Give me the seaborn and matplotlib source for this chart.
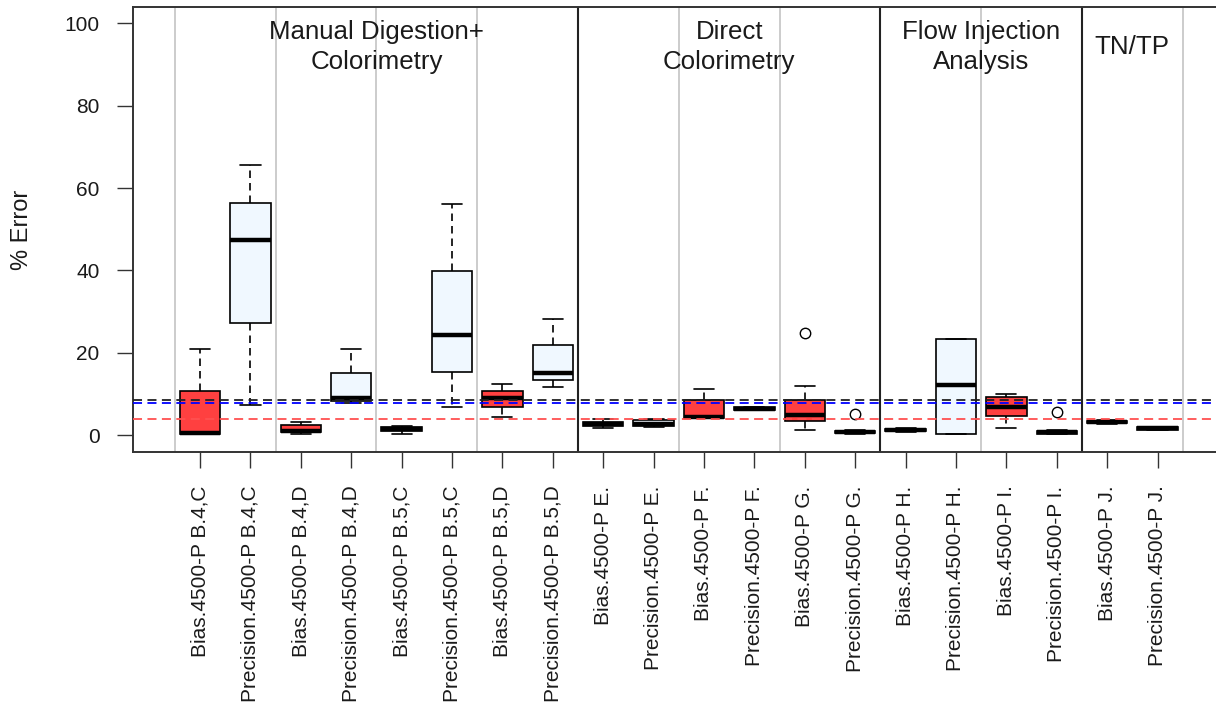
import numpy as np
import pandas as pd
import matplotlib
matplotlib.use("Agg")
import matplotlib.pyplot as plt
import seaborn as sns

# ---------------- data ----------------
labels = [
    "Bias.4500-P B.4,C", "Precision.4500-P B.4,C",
    "Bias.4500-P B.4,D", "Precision.4500-P B.4,D",
    "Bias.4500-P B.5,C", "Precision.4500-P B.5,C",
    "Bias.4500-P B.5,D", "Precision.4500-P B.5,D",
    "Bias.4500-P E.", "Precision.4500-P E.",
    "Bias.4500-P F.", "Precision.4500-P F.",
    "Bias.4500-P G.", "Precision.4500-P G.",
    "Bias.4500-P H.", "Precision.4500-P H.",
    "Bias.4500-P I.", "Precision.4500-P I.",
    "Bias.4500-P J.", "Precision.4500-P J.",
]
kinds = ["Bias", "Precision"] * 10

whisker_lo = [0.30, 7.3, 0.35, 7.9, 0.35, 6.8, 4.5, 11.6, 1.7, 1.9,
              4.2, 6.0, 1.2, 0.25, 0.8, 0.25, 1.7, 0.2, 2.7, 1.15]
q1 = [0.35, 27.3, 0.8, 8.3, 1.0, 15.3, 6.9, 13.3, 2.1, 2.1,
      4.2, 6.1, 3.4, 0.4, 0.95, 0.25, 4.7, 0.35, 2.85, 1.3]
median = [0.6, 47.5, 1.0, 8.9, 1.55, 24.2, 9.1, 15.0, 2.6, 2.7,
          4.45, 6.4, 4.9, 0.7, 1.2, 12.05, 6.8, 0.7, 3.1, 1.6]
q3 = [10.8, 56.4, 2.35, 15.0, 2.0, 39.9, 10.8, 21.8, 3.2, 3.7,
      8.4, 6.7, 8.4, 1.0, 1.45, 23.4, 9.3, 1.0, 3.35, 1.85]
whisker_hi = [21.0, 65.7, 3.2, 21.0, 2.3, 56.1, 12.5, 28.2, 4.0, 4.0,
              11.25, 6.9, 12.0, 1.2, 1.6, 23.4, 9.95, 1.2, 3.55, 2.05]
outliers = [None, None, None, None, None, None, None, None, None, None,
            None, None, 24.9, 5.2, None, None, None, 5.7, None, None]

group_titles = ["Manual Digestion+\nColorimetry", "Direct\nColorimetry",
                "Flow Injection\nAnalysis", "TN/TP"]
group_centers = [3.5, 10.5, 15.5, 18.5]
minor_separators = [-0.5, 1.5, 3.5, 5.5, 9.5, 11.5, 15.5, 19.5]
major_separators = [7.5, 13.5, 17.5]
ref_black, ref_blue, ref_red = 8.4, 7.7, 4.0
yticks = [0, 20, 40, 60, 80, 100]

# -------- long-form table for seaborn (reproduces the box statistics) --------
rows = []
for i, lab in enumerate(labels):
    lo, a, m, b, hi, out = whisker_lo[i], q1[i], median[i], q3[i], whisker_hi[i], outliers[i]
    if out is None:
        vals = [lo, a, a, m, m, m, b, b, hi]
    else:
        vals = [lo, a, a, m, m, b, b, hi, out]
    for v in vals:
        rows.append({"label": lab, "kind": kinds[i], "value": v})
df = pd.DataFrame(rows)

# ---------------- figure ----------------
sns.set_style("white")
plt.rcParams["font.family"] = ["Liberation Sans", "DejaVu Sans"]
plt.rcParams["text.color"] = "#1a1a1a"

W, H = 1216, 710
fig = plt.figure(figsize=(W / 100, H / 100), dpi=100)
ax = fig.add_axes([133 / W, 258.5 / H, (1224.6 - 133) / W, 444.5 / H])

for xv in minor_separators:
    ax.axvline(xv, color="#c8c8c8", lw=1.3, zorder=0.5)
for xv in major_separators:
    ax.axvline(xv, color="#222222", lw=1.5, zorder=0.5)

sns.boxplot(
    data=df, x="label", y="value", hue="kind", order=labels,
    hue_order=["Bias", "Precision"],
    palette={"Bias": "#ff4040", "Precision": "#f0f8ff"},
    dodge=False, width=0.8, saturation=1, linecolor="black", linewidth=1.2,
    fliersize=7.5, legend=False, ax=ax,
    whiskerprops=dict(linestyle=(0, (4.5, 3)), linewidth=1.2),
    capprops=dict(linewidth=1.2),
    medianprops=dict(linewidth=3.2, color="black"),
    flierprops=dict(marker="o", markerfacecolor="none", markeredgecolor="black",
                    markeredgewidth=1.0),
)

ax.axhline(ref_black, color="#222222", lw=1.3, ls=(0, (5, 3)), zorder=6)
ax.axhline(ref_blue, color="#0000ff", lw=1.3, ls=(0, (5, 3)), zorder=6)
ax.axhline(ref_red, color="#ff5050", lw=1.3, ls=(0, (5, 3)), zorder=6)

for c, t in zip(group_centers, group_titles):
    ax.text(c, 94.3, t, ha="center", va="center", fontsize=18.6,
            linespacing=1.32, color="#1a1a1a", zorder=7)

ax.set_xlim(-1.33, 20.33)
ax.set_ylim(-4, 104)
ax.set_yticks(yticks)
ax.set_yticklabels([str(v) for v in yticks])
ax.set_xticks(range(len(labels)))
ax.set_xticklabels(labels, rotation=90)
ax.set_xlabel("")
ax.set_ylabel("")
ax.tick_params(axis="both", direction="out", length=11.5, width=1.0,
               color="#333333", labelsize=15, labelcolor="#1a1a1a",
               bottom=True, left=True)
ax.tick_params(axis="x", pad=13)
ax.tick_params(axis="y", pad=12.7)
for s in ax.spines.values():
    s.set_color("#333333")
    s.set_linewidth(1.4)
    s.set_visible(True)

fig.text(22 / W, 1 - 230 / H, "% Error", rotation=90, ha="center", va="center",
         fontsize=17, color="#1a1a1a")

fig.savefig("out.png", dpi=100)
